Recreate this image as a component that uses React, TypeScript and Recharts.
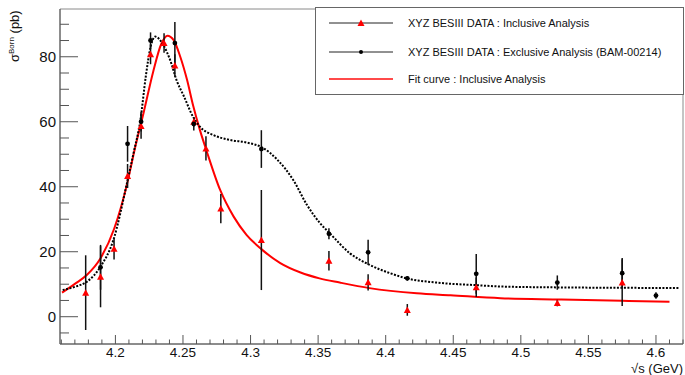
import { ComposedChart, ErrorBar, Line, ReferenceArea, Scatter, XAxis, YAxis } from "recharts";

// inclusive analysis (red triangles)
const INCL_X = [4.178, 4.189, 4.199, 4.209, 4.219, 4.226, 4.236, 4.244, 4.258, 4.267, 4.278, 4.308, 4.358, 4.387, 4.416, 4.467, 4.527, 4.575];
const INCL_Y = [7.4, 12.3, 20.9, 43.3, 58.7, 80.8, 84.2, 77.3, 60.0, 51.8, 33.3, 23.6, 17.2, 10.6, 2.1, 9.1, 4.2, 10.5];
const INCL_ERR = [11.5, 9.4, 3.3, 3.7, 3.9, 3.1, 3.0, 3.5, 1.5, 3.7, 4.5, 15.4, 3.0, 2.5, 1.8, 3.0, 1.0, 7.2];

// exclusive analysis (black dots)
const EXCL_X = [4.189, 4.209, 4.219, 4.226, 4.244, 4.258, 4.308, 4.358, 4.387, 4.416, 4.467, 4.527, 4.575, 4.6];
const EXCL_Y = [15.2, 53.2, 60.0, 85.0, 84.2, 59.3, 51.6, 25.5, 19.8, 11.8, 13.2, 10.5, 13.4, 6.5];
const EXCL_ERR = [6.9, 5.5, 3.0, 2.5, 6.5, 2.0, 5.8, 1.7, 3.9, 0.7, 6.1, 2.2, 4.7, 1.0];

// fit curve, inclusive (red solid)
const FIT_X = [4.1605, 4.17, 4.179, 4.189, 4.199, 4.209, 4.214, 4.221, 4.228, 4.234, 4.2385, 4.243, 4.248, 4.253, 4.2575, 4.2625, 4.2675, 4.2775, 4.2875, 4.297, 4.308, 4.322, 4.337, 4.351, 4.366, 4.388, 4.423, 4.448, 4.485, 4.53, 4.575, 4.61];
const FIT_Y = [7.4, 10.1, 12.9, 18.0, 27.0, 41.5, 51.0, 63.0, 75.5, 84.0, 86.5, 85.2, 80.0, 72.9, 65.0, 57.5, 51.0, 39.0, 30.8, 25.2, 20.8, 16.5, 13.6, 11.8, 10.5, 8.8, 7.2, 6.6, 5.7, 5.3, 4.9, 4.6];

// smooth curve through exclusive data (black dotted)
const EXC_CURVE_X = [4.161, 4.17, 4.179, 4.189, 4.1985, 4.2085, 4.2135, 4.2185, 4.2225, 4.226, 4.2295, 4.2355, 4.2405, 4.2455, 4.2505, 4.2575, 4.2625, 4.2725, 4.2848, 4.297, 4.309, 4.3194, 4.3317, 4.3416, 4.3514, 4.3588, 4.3736, 4.3884, 4.4032, 4.4155, 4.4377, 4.4673, 4.4845, 4.5315, 4.575, 4.6177];
const EXC_CURVE_Y = [8.2, 9.2, 10.8, 15.4, 23.6, 41.0, 50.5, 60.5, 74.0, 83.0, 86.2, 83.6, 79.0, 72.5, 68.0, 61.5, 58.5, 55.9, 54.4, 53.6, 52.0, 48.5, 42.0, 34.5, 28.8, 25.6, 19.5, 15.9, 13.4, 11.8, 10.5, 9.7, 9.3, 9.0, 8.9, 8.8];

const X_MAJOR = [4.2, 4.25, 4.3, 4.35, 4.4, 4.45, 4.5, 4.55, 4.6];
const Y_MAJOR = [0, 20, 40, 60, 80];

const X_TICKS = Array.from({ length: 47 }, (_, i) => (416 + i) / 100);
const Y_TICKS = Array.from({ length: 20 }, (_, i) => -5 + i * 5);

const FONT = "'Liberation Sans', Arial, Helvetica, sans-serif";
const AXIS = "#555";

const incl = INCL_X.map((x, i) => ({ x, y: INCL_Y[i], err: INCL_ERR[i] }));
const excl = EXCL_X.map((x, i) => ({ x, y: EXCL_Y[i], err: EXCL_ERR[i] }));
const fit = FIT_X.map((x, i) => ({ x, y: FIT_Y[i] }));
const excCurve = EXC_CURVE_X.map((x, i) => ({ x, y: EXC_CURVE_Y[i] }));

function XTick(props: any) {
  const { x, y, payload } = props;
  const v = payload.value;
  const major = X_MAJOR.some((m) => Math.abs(m - v) < 1e-6);
  return (
    <g>
      <line x1={x} x2={x} y1={y} y2={y - (major ? 9 : 4.5)} stroke={AXIS} />
      {major && (
        <text x={x} y={y + 13} textAnchor="middle" fontSize={13.5} fontFamily={FONT} fill="#111">
          {String(v)}
        </text>
      )}
    </g>
  );
}

function YTick(props: any) {
  const { x, y, payload } = props;
  const v = payload.value;
  const major = Y_MAJOR.includes(v);
  return (
    <g>
      <line x1={x} x2={x + (major ? 18 : 9)} y1={y} y2={y} stroke={AXIS} />
      {major && (
        <text x={x - 4} y={y + 5.4} textAnchor="end" fontSize={15} fontFamily={FONT} fill="#111">
          {v}
        </text>
      )}
    </g>
  );
}

function Triangle(props: any) {
  const { cx, cy } = props;
  return <polygon points={`${cx - 3.5},${cy + 3} ${cx + 3.5},${cy + 3} ${cx},${cy - 3.5}`} fill="#ff0000" />;
}

function Dot(props: any) {
  const { cx, cy } = props;
  return <circle cx={cx} cy={cy} r={2.4} fill="#000" />;
}

function LegendBox() {
  const rows = [
    { y: 23, kind: "tri", label: "XYZ BESIII DATA : Inclusive Analysis" },
    { y: 52, kind: "dot", label: "XYZ BESIII DATA : Exclusive Analysis (BAM-00214)" },
    { y: 79, kind: "fit", label: "Fit curve : Inclusive Analysis" },
  ];
  return (
    <svg width={685} height={375} style={{ position: "absolute", left: 0, top: 0, pointerEvents: "none" }}>
      <rect x={315.5} y={7.5} width={368} height={87} fill="#fff" stroke="#666" />
      {rows.map((r) => (
        <g key={r.label}>
          {r.kind === "fit" ? (
            <line x1={329} x2={393} y1={r.y} y2={r.y} stroke="#ff4a4a" strokeWidth={2} />
          ) : (
            <line x1={329} x2={393} y1={r.y} y2={r.y} stroke="#222" />
          )}
          {r.kind === "tri" && <Triangle cx={361} cy={r.y} />}
          {r.kind === "dot" && <circle cx={361} cy={r.y} r={2} fill="#000" />}
          <text x={408} y={r.y + 3.8} fontSize={11} fontFamily={FONT} fill="#111">
            {r.label}
          </text>
        </g>
      ))}
    </svg>
  );
}

export default function App() {
  return (
    <div style={{ position: "absolute", left: 0, top: 0, width: 685, height: 375, background: "#fff" }}>
      <ComposedChart width={685} height={375} margin={{ top: 9, right: 2, bottom: 0, left: 0 }}>
        <XAxis
          type="number"
          dataKey="x"
          domain={[4.159, 4.62]}
          ticks={X_TICKS}
          interval={0}
          tick={(p: any) => <XTick {...p} />}
          tickSize={0}
          tickMargin={0}
          tickLine={false}
          axisLine={{ stroke: AXIS }}
          height={31}
          allowDataOverflow
        />
        <YAxis
          type="number"
          dataKey="y"
          domain={[-8.4, 94.7]}
          ticks={Y_TICKS}
          interval={0}
          tick={(p: any) => <YTick {...p} />}
          tickSize={0}
          tickMargin={0}
          tickLine={false}
          axisLine={{ stroke: AXIS }}
          width={60}
          allowDataOverflow
        />
        <ReferenceArea x1={4.159} x2={4.62} y1={-8.4} y2={94.7} fill="none" stroke="#8a8a8a" />
        <Line data={fit} dataKey="y" type="monotone" stroke="#ff0000" strokeWidth={2} dot={false} activeDot={false} isAnimationActive={false} />
        <Line
          data={excCurve}
          dataKey="y"
          type="monotone"
          stroke="#000"
          strokeWidth={2}
          strokeDasharray="2 1.5"
          dot={false}
          activeDot={false}
          isAnimationActive={false}
        />
        <Scatter data={incl} dataKey="y" shape={(p: any) => <Triangle {...p} />} isAnimationActive={false}>
          <ErrorBar dataKey="err" direction="y" width={0} stroke="#111" strokeWidth={1.5} />
        </Scatter>
        <Scatter data={excl} dataKey="y" shape={(p: any) => <Dot {...p} />} isAnimationActive={false}>
          <ErrorBar dataKey="err" direction="y" width={0} stroke="#111" strokeWidth={1.5} />
        </Scatter>
      </ComposedChart>
      <LegendBox />
      <svg width={685} height={375} style={{ position: "absolute", left: 0, top: 0, pointerEvents: "none" }}>
        <text transform="translate(18.5,62) rotate(-90)" fontSize={13} fontFamily={FONT} fill="#111">
          σ
          <tspan dy={-5} fontSize={8}>
            Born
          </tspan>
          <tspan dy={5}> (pb)</tspan>
        </text>
        <text x={683} y={373} textAnchor="end" fontSize={13} fontFamily={FONT} fill="#111">
          √s (GeV)
        </text>
      </svg>
    </div>
  );
}
